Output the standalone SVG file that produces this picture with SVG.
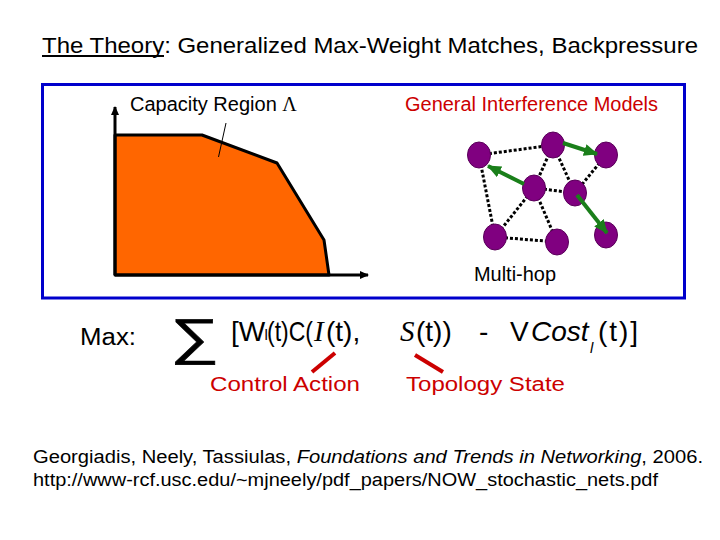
<svg xmlns="http://www.w3.org/2000/svg" width="720" height="540" viewBox="0 0 720 540">
<style>
.s{font-family:"Liberation Sans",Arial,sans-serif;fill:#000}
.r{fill:#CC0000}
.node{fill:#800080;stroke:#5a005a;stroke-width:1}
.dot{stroke:#000;stroke-width:3;stroke-dasharray:3 2;fill:none}
.grn{stroke:#1A7F1A;stroke-width:4;fill:none}
.serif{font-family:"Liberation Serif","Times New Roman",serif;font-style:italic;fill:#000}
.fx{font-size:28px}
</style>
<defs>
<marker id="ga" markerUnits="userSpaceOnUse" markerWidth="14" markerHeight="12" viewBox="0 0 14 12" refX="13" refY="6" orient="auto"><path d="M0,0 L14,6 L0,12 z" fill="#1A7F1A"/></marker>
<marker id="ba" markerUnits="userSpaceOnUse" markerWidth="9" markerHeight="8" viewBox="0 0 9 8" refX="8" refY="4" orient="auto"><path d="M0,0 L9,4 L0,8 z" fill="#000"/></marker>
</defs>
<rect width="720" height="540" fill="#fff"/>

<g id="title">
<text class="s" x="42" y="53" font-size="22" textLength="656" lengthAdjust="spacingAndGlyphs">The Theory: Generalized Max-Weight Matches, Backpressure</text>
<line x1="42" y1="56" x2="164" y2="56" stroke="#000" stroke-width="2"/>
</g>

<rect id="frame" x="42.5" y="84.5" width="642" height="213.5" fill="none" stroke="#0000CC" stroke-width="3"/>

<g id="capacity">
<polygon points="115,135 202,135 277,163 324,240 329,275 115,275" fill="#FF6600" stroke="#000" stroke-width="3" stroke-linejoin="round"/>
<line x1="115" y1="275" x2="115" y2="107" stroke="#000" stroke-width="3" marker-end="url(#ba)"/>
<line x1="115" y1="275" x2="368" y2="275" stroke="#000" stroke-width="3" marker-end="url(#ba)"/>
<line x1="226" y1="123" x2="218.5" y2="157" stroke="#000" stroke-width="1"/>
<text class="s" x="130" y="111" font-size="20">Capacity Region <tspan style="font-family:'Liberation Serif','Times New Roman',serif;font-style:normal">Λ</tspan></text>
</g>

<g id="network-labels">
<text class="s r" x="405" y="111" font-size="20" textLength="253" lengthAdjust="spacingAndGlyphs">General Interference Models</text>
<text class="s" x="474" y="281" font-size="20" textLength="82" lengthAdjust="spacingAndGlyphs">Multi-hop</text>
</g>

<g id="connectors">
<line class="dot" x1="479" y1="155" x2="553" y2="145"/>
<line class="dot" x1="479" y1="155" x2="495" y2="237"/>
<line class="dot" x1="553" y1="145" x2="534" y2="188"/>
<line class="dot" x1="553" y1="145" x2="575" y2="193"/>
<line class="dot" x1="606" y1="155" x2="575" y2="193"/>
<line class="dot" x1="534" y1="188" x2="575" y2="193"/>
<line class="dot" x1="534" y1="188" x2="495" y2="237"/>
<line class="dot" x1="534" y1="188" x2="557" y2="242"/>
<line class="dot" x1="495" y1="237" x2="557" y2="242"/>
</g>

<g id="n1"><ellipse class="node" cx="479" cy="155" rx="11.5" ry="13"/></g>
<g id="n2"><ellipse class="node" cx="553" cy="145" rx="11.5" ry="13"/></g>
<g id="n3"><ellipse class="node" cx="606" cy="155" rx="11.5" ry="13"/></g>
<g id="n4"><ellipse class="node" cx="534" cy="188" rx="11.5" ry="13"/></g>
<g id="n5"><ellipse class="node" cx="575" cy="193" rx="11.5" ry="13"/></g>
<g id="n6"><ellipse class="node" cx="495" cy="237" rx="11.5" ry="13"/></g>
<g id="n7"><ellipse class="node" cx="557" cy="242" rx="11.5" ry="13"/></g>
<g id="n8"><ellipse class="node" cx="606" cy="235" rx="11.5" ry="13"/></g>

<g id="transmissions">
<line class="grn" x1="563" y1="143" x2="597" y2="154" marker-end="url(#ga)"/>
<line class="grn" x1="524" y1="184" x2="488" y2="166" marker-end="url(#ga)"/>
<line class="grn" x1="577" y1="195" x2="607" y2="233" marker-end="url(#ga)"/>
</g>

<g id="formula">
<text class="s" x="80" y="345" font-size="23" textLength="56" lengthAdjust="spacingAndGlyphs">Max:</text>
<text class="s" x="170" y="354" font-size="50" textLength="49" lengthAdjust="spacingAndGlyphs" stroke="#000" stroke-width="0.6">∑</text>
<text class="s fx" x="231" y="341">[W</text>
<text class="s" x="264.5" y="340" font-size="15">l</text>
<text class="s fx" x="267" y="341" textLength="46" lengthAdjust="spacingAndGlyphs">(t)C(</text>
<text class="serif" x="314" y="341" font-size="29">I</text>
<text class="s fx" x="326" y="341">(t),</text>
<text class="serif" x="400" y="341" font-size="29">S</text>
<text class="s fx" x="416" y="341">(t))</text>
<text class="s fx" x="479" y="341">-</text>
<text class="s fx" x="510" y="341">V</text>
<text class="s fx" x="531" y="341" font-style="italic">Cost</text>
<text class="s" x="590" y="353" font-size="15" font-style="italic">l</text>
<text class="s fx" x="598" y="341" textLength="40" lengthAdjust="spacing">(t)]</text>
<line x1="335" y1="353" x2="312" y2="372" stroke="#CC0000" stroke-width="4"/>
<line x1="415" y1="355" x2="443" y2="372" stroke="#CC0000" stroke-width="4"/>
<text class="s r" x="210" y="391" font-size="20" textLength="150" lengthAdjust="spacingAndGlyphs">Control Action</text>
<text class="s r" x="406" y="391" font-size="20" textLength="159" lengthAdjust="spacingAndGlyphs">Topology State</text>
</g>

<g id="citation">
<text class="s" x="33" y="463" font-size="18" textLength="670" lengthAdjust="spacingAndGlyphs">Georgiadis, Neely, Tassiulas, <tspan font-style="italic">Foundations and Trends in Networking</tspan>, 2006.</text>
<text class="s" x="33" y="486" font-size="18" textLength="625" lengthAdjust="spacingAndGlyphs">http://www-rcf.usc.edu/~mjneely/pdf_papers/NOW_stochastic_nets.pdf</text>
</g>
</svg>
